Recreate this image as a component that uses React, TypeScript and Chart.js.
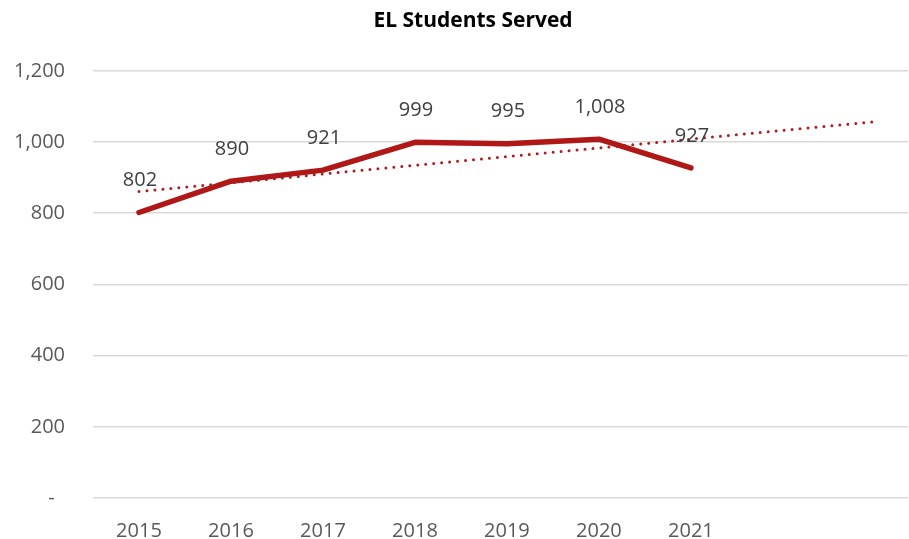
import React, { useEffect, useRef } from "react";
import { Chart, registerables } from "chart.js";

Chart.register(...registerables);

const years = ["2015", "2016", "2017", "2018", "2019", "2020", "2021"];
const students = [802, 890, 921, 999, 995, 1008, 927];
// linear trendline: start at 2015, extends 2 periods forward
const trendX = [0, 8];
const trendY = [861, 1057];
const yTicks = [0, 200, 400, 600, 800, 1000, 1200];
const titleText = "EL Students Served";

const FONT = "'Open Sans', 'Liberation Sans', sans-serif";

const dataLabels = {
  id: "dataLabels",
  afterDatasetsDraw(chart: any) {
    const meta = chart.getDatasetMeta(1);
    const ctx = chart.ctx;
    ctx.save();
    ctx.font = `20px ${FONT}`;
    ctx.fillStyle = "#404040";
    ctx.textAlign = "center";
    ctx.textBaseline = "middle";
    meta.data.forEach((pt: any, i: number) => {
      ctx.fillText(students[i].toLocaleString("en-US"), pt.x + 1, pt.y - 32);
    });
    ctx.restore();
  },
};

const titleDraw = {
  id: "titleDraw",
  afterDraw(chart: any) {
    const ctx = chart.ctx;
    ctx.save();
    ctx.font = `bold 21px ${FONT}`;
    ctx.fillStyle = "#000000";
    ctx.textAlign = "center";
    ctx.textBaseline = "middle";
    ctx.fillText(titleText, 473, 21);
    ctx.restore();
  },
};

export default function App() {
  const ref = useRef<HTMLCanvasElement>(null);
  useEffect(() => {
    document.body.style.margin = "0";
    const chart = new Chart(ref.current!, {
      type: "line",
      data: {
        datasets: [
          {
            label: "Linear trend",
            data: trendX.map((x, i) => ({ x, y: trendY[i] })),
            borderColor: "#B11B1B",
            borderWidth: 3,
            borderDash: [0, 8],
            borderCapStyle: "round",
            pointRadius: 0,
            fill: false,
            order: 0,
          },
          {
            label: "EL Students Served",
            data: students.map((y, i) => ({ x: i, y })),
            borderColor: "#B01818",
            borderWidth: 5.5,
            borderCapStyle: "round",
            borderJoinStyle: "round",
            pointRadius: 0,
            tension: 0,
            fill: false,
            order: 1,
          },
        ],
      },
      options: {
        animation: false,
        responsive: false,
        maintainAspectRatio: false,
        layout: { padding: { left: 0, right: 1, top: 0, bottom: 0 } },
        plugins: {
          legend: { display: false },
          tooltip: { enabled: false },
          title: {
            display: true,
            text: titleText,
            color: "rgba(0,0,0,0)",
            font: { family: FONT, size: 19, weight: "bold" },
            padding: { top: 8, bottom: 40 },
          },
        },
        scales: {
          x: {
            type: "linear",
            min: -0.5,
            max: 8.36,
            grid: { display: false },
            border: { display: false },
            afterBuildTicks: (scale: any) => {
              scale.ticks = years.map((_, i) => ({ value: i }));
            },
            afterFit: (scale: any) => {
              scale.height = 41;
            },
            ticks: {
              autoSkip: false,
              maxRotation: 0,
              padding: 13,
              color: "#595959",
              font: { family: FONT, size: 20 },
              callback: (v: any) => years[v] ?? "",
            },
          },
          y: {
            min: 0,
            max: 1200,
            afterBuildTicks: (scale: any) => {
              scale.ticks = yTicks.map((v) => ({ value: v }));
            },
            afterFit: (scale: any) => {
              scale.width = 93;
            },
            grid: { color: "#D9D9D9", lineWidth: 1.5, drawTicks: false },
            border: { display: false },
            ticks: {
              padding: 28,
              color: "#595959",
              font: { family: FONT, size: 20 },
              callback: (v: any) => (v === 0 ? "-  " : Number(v).toLocaleString("en-US")),
            },
          },
        },
      },
      plugins: [dataLabels, titleDraw],
    } as any);
    return () => chart.destroy();
  }, []);
  return (
    <div style={{ position: "absolute", left: 0, top: 0, width: 909, height: 539 }}>
      <canvas ref={ref} width={909} height={539} style={{ width: 909, height: 539 }} />
    </div>
  );
}
